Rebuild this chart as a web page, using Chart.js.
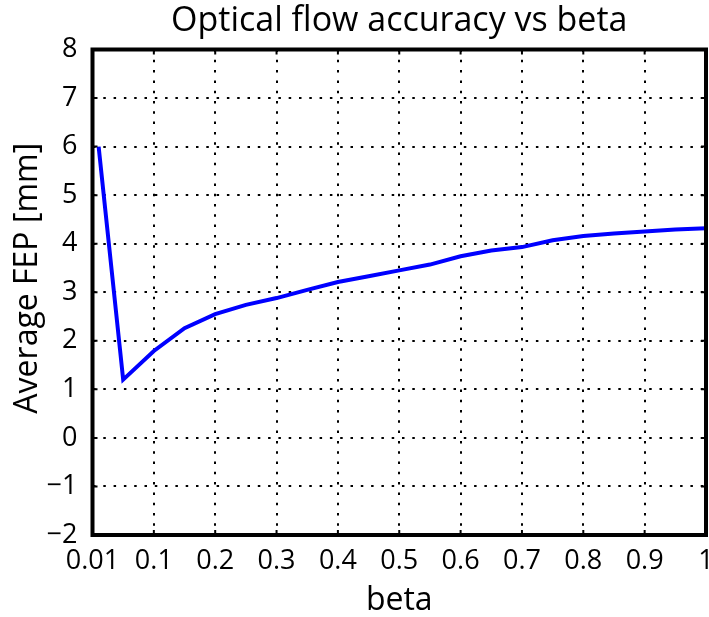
<!DOCTYPE html>
<html>
<head>
<meta charset="utf-8">
<script src="https://cdn.jsdelivr.net/npm/chart.js@4.4.0/dist/chart.umd.min.js"></script>
<style>
    html, body { margin: 0; padding: 0; background: #fff; }
    #wrap { width: 709px; height: 617px; position: relative; }
</style>
</head>
<body>
<div id="wrap"><canvas id="flowChart"></canvas></div>
<script>
// ========================================
// データ
// ========================================

const betaValues = [0.01, 0.05, 0.1, 0.15, 0.2, 0.25, 0.3, 0.35, 0.4, 0.45, 0.5,
                    0.55, 0.6, 0.65, 0.7, 0.75, 0.8, 0.85, 0.9, 0.95, 1.0];
const fepValues = [6.0, 1.2, 1.79, 2.26, 2.55, 2.74, 2.88, 3.05, 3.21, 3.33, 3.45,
                   3.57, 3.74, 3.86, 3.93, 4.07, 4.16, 4.21, 4.25, 4.29, 4.32];

// x軸は0〜1、最初の目盛りだけ "0.01" と表示されている
const xTickValues = [0, 0.1, 0.2, 0.3, 0.4, 0.5, 0.6, 0.7, 0.8, 0.9, 1];
const xTickLabels = ['0.01', '0.1', '0.2', '0.3', '0.4', '0.5', '0.6', '0.7', '0.8', '0.9', '1'];
const yTickValues = [-2, -1, 0, 1, 2, 3, 4, 5, 6, 7, 8];

const chartTitle = 'Optical flow accuracy vs beta';
const yAxisTitle = 'Average FEP [mm]';
const xAxisTitle = 'beta';

const FONT = "'Open Sans', 'DejaVu Sans', sans-serif";

// ========================================
// 枠線・内向き目盛り・タイトル (MATLAB風)
// ========================================

const framePlugin = {
    id: 'frame',
    afterDraw(chart) {
        const { ctx, chartArea: a, scales } = chart;
        const tick = 5;
        ctx.save();
        ctx.strokeStyle = '#000';
        ctx.lineWidth = 2;
        ctx.beginPath();
        xTickValues.forEach(v => {
            const x = scales.x.getPixelForValue(v);
            ctx.moveTo(x, a.bottom); ctx.lineTo(x, a.bottom - tick);
            ctx.moveTo(x, a.top); ctx.lineTo(x, a.top + tick);
        });
        yTickValues.forEach(v => {
            const y = scales.y.getPixelForValue(v);
            ctx.moveTo(a.left, y); ctx.lineTo(a.left + tick, y);
            ctx.moveTo(a.right, y); ctx.lineTo(a.right - tick, y);
        });
        ctx.stroke();
        ctx.lineWidth = 4;
        ctx.strokeRect(a.left, a.top, a.right - a.left, a.bottom - a.top);

        // タイトル (軸領域の中央)
        ctx.fillStyle = '#000';
        ctx.textAlign = 'center';
        ctx.textBaseline = 'middle';
        ctx.font = `34px ${FONT}`;
        ctx.fillText(chartTitle, (a.left + a.right) / 2, 21);

        // y軸ラベル
        ctx.translate(28, (a.top + a.bottom) / 2 - 14);
        ctx.rotate(-Math.PI / 2);
        ctx.font = `32px ${FONT}`;
        ctx.fillText(yAxisTitle, 0, 0);
        ctx.restore();
    }
};

// ========================================
// チャート
// ========================================

const ctx = document.getElementById('flowChart').getContext('2d');

new Chart(ctx, {
    type: 'line',
    data: {
        datasets: [{
            label: 'Average FEP',
            data: betaValues.map((b, i) => ({ x: b, y: fepValues[i] })),
            borderColor: '#0000ff',
            borderWidth: 4,
            pointRadius: 0,
            tension: 0,
            fill: false
        }]
    },
    options: {
        responsive: true,
        maintainAspectRatio: false,
        animation: false,
        layout: { padding: { left: 0, right: 3, top: 49.5, bottom: 0 } },
        plugins: {
            legend: { display: false },
            tooltip: { enabled: false },
            title: { display: false }
        },
        scales: {
            x: {
                type: 'linear',
                min: 0,
                max: 1,
                afterBuildTicks: scale => {
                    scale.ticks = xTickValues.map(v => ({ value: v }));
                },
                afterFit: scale => {
                    scale.height = 82;
                    scale.paddingLeft = 0;
                    scale.paddingRight = 0;
                },
                ticks: {
                    color: '#000',
                    autoSkip: false,
                    maxRotation: 0,
                    padding: 10,
                    font: { family: FONT, size: 27 },
                    callback: (value, index) => xTickLabels[index]
                },
                grid: { color: '#000', lineWidth: 2, drawTicks: false },
                border: { display: false, dash: [2.5, 7.8] },
                title: {
                    display: true,
                    text: xAxisTitle,
                    color: '#000',
                    font: { family: FONT, size: 32, lineHeight: 1.0 },
                    padding: { top: 0, bottom: 0 }
                }
            },
            y: {
                min: -2,
                max: 8,
                afterBuildTicks: scale => {
                    scale.ticks = yTickValues.map(v => ({ value: v }));
                },
                afterFit: scale => {
                    scale.width = 92.5;
                    scale.paddingTop = 0;
                    scale.paddingBottom = 0;
                },
                ticks: {
                    color: '#000',
                    padding: 15,
                    font: { family: FONT, size: 27 },
                    callback: value => value < 0 ? '\u2212' + Math.abs(value) : String(value)
                },
                grid: { color: '#000', lineWidth: 2, drawTicks: false },
                border: { display: false, dash: [2.5, 7.8] }
            }
        }
    },
    plugins: [framePlugin]
});
</script>
</body>
</html>
